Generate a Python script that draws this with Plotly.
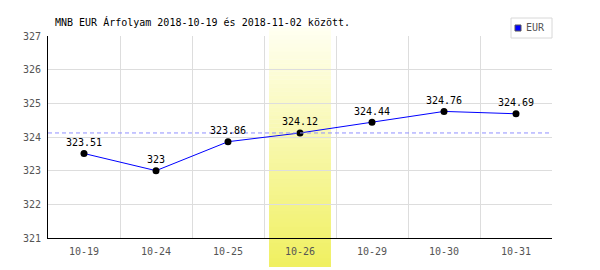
import plotly.graph_objects as go

categories = ["10-19", "10-24", "10-25", "10-26", "10-29", "10-30", "10-31"]
eur_values = [323.51, 323.00, 323.86, 324.12, 324.44, 324.76, 324.69]
value_labels = ["323.51", "323", "323.86", "324.12", "324.44", "324.76", "324.69"]
y_ticks = [321, 322, 323, 324, 325, 326, 327]
reference_value = 324.12
highlight_category = "10-26"
title_text = "MNB EUR Árfolyam 2018-10-19 és 2018-11-02 között."
series_name = "EUR"

FONT = "DejaVu Sans Mono"
W, H = 600, 270
ML, MR, MT, MB = 48, 48, 36, 32
plot_h = H - MT - MB

xs = list(range(len(categories)))

fig = go.Figure()
fig.add_trace(go.Scatter(
    x=xs, y=eur_values, mode="lines+markers",
    line=dict(color="#0000ff", width=1),
    marker=dict(color="#000000", size=7),
    showlegend=False, hoverinfo="skip", cliponaxis=False,
))

shapes = []
# gradient highlight band
hi = categories.index(highlight_category)
top_px, bot_px = 28, 267
n = 60
c_top = (255, 255, 242)
c_bot = (240, 240, 96)
for i in range(n):
    f0 = i / n
    f1 = (i + 1) / n
    p0 = top_px + (bot_px - top_px) * f0
    p1 = top_px + (bot_px - top_px) * f1
    fm = (f0 + f1) / 2
    col = tuple(round(c_top[k] + (c_bot[k] - c_top[k]) * fm) for k in range(3))
    shapes.append(dict(
        type="rect", xref="x", yref="paper", layer="between",
        x0=hi - 0.43, x1=hi + 0.43,
        y0=(H - MB - p1) / plot_h, y1=(H - MB - p0) / plot_h + 0.002,
        fillcolor="rgb(%d,%d,%d)" % col, line=dict(width=0),
    ))
# reference dashed line
shapes.append(dict(
    type="line", xref="paper", yref="y", x0=0, x1=1,
    y0=reference_value, y1=reference_value, layer="above",
    line=dict(color="#8f8fff", width=1, dash="4px,3px"),
))
# legend box
lx0, lx1, ly0, ly1 = 511, 552, 18, 38
shapes.append(dict(
    type="rect", xref="paper", yref="paper",
    x0=(lx0 - ML) / (W - ML - MR), x1=(lx1 - ML) / (W - ML - MR),
    y0=(H - MB - ly1) / plot_h, y1=(H - MB - ly0) / plot_h,
    fillcolor="#ffffff", line=dict(color="#d8d8d8", width=1), layer="above",
))
sx0, sx1, sy0, sy1 = 515, 521, 25, 31
shapes.append(dict(
    type="rect", xref="paper", yref="paper",
    x0=(sx0 - ML) / (W - ML - MR), x1=(sx1 - ML) / (W - ML - MR),
    y0=(H - MB - sy1) / plot_h, y1=(H - MB - sy0) / plot_h,
    fillcolor="#0000ff", line=dict(color="#555555", width=1), layer="above",
))

annotations = []
for x, y, t in zip(xs, eur_values, value_labels):
    annotations.append(dict(
        x=x, y=y, text=t, showarrow=False, yshift=11,
        font=dict(family=FONT, size=10, color="#000000"),
    ))
annotations.append(dict(
    x=(524 - ML) / (W - ML - MR), y=(H - MB - 28) / plot_h,
    xref="paper", yref="paper", text=series_name, showarrow=False,
    xanchor="left", yanchor="middle",
    font=dict(family=FONT, size=10, color="#555555"),
))
annotations.append(dict(
    x=(53 - ML) / (W - ML - MR), y=(H - MB - 22) / plot_h,
    xref="paper", yref="paper", text=title_text, showarrow=False,
    xanchor="left", yanchor="middle",
    font=dict(family=FONT, size=10, color="#000000"),
))

fig.update_layout(
    width=W, height=H,
    margin=dict(l=ML, r=MR, t=MT, b=MB, pad=0),
    paper_bgcolor="#ffffff", plot_bgcolor="#ffffff",
    showlegend=False,
    shapes=shapes, annotations=annotations,
    font=dict(family=FONT, size=10, color="#555555"),
)
fig.update_xaxes(
    range=[-0.5, len(categories) - 0.5],
    tickvals=xs, ticktext=categories,
    showgrid=False, zeroline=False,
    showline=True, linecolor="#000000", linewidth=1,
    ticks="", ticklabelstandoff=4,
    minor=dict(tickvals=[i + 0.5 for i in range(len(categories))],
               showgrid=True, gridcolor="#dddddd", gridwidth=1, ticks=""),
    tickfont=dict(family=FONT, size=10, color="#555555"),
)
fig.update_yaxes(
    range=[y_ticks[0], y_ticks[-1]],
    tickvals=y_ticks,
    showgrid=True, gridcolor="#dddddd", gridwidth=1, zeroline=False,
    showline=True, linecolor="#000000", linewidth=1,
    ticks="", ticklabelstandoff=4,
    tickfont=dict(family=FONT, size=10, color="#555555"),
)

fig.write_html("out.html")
